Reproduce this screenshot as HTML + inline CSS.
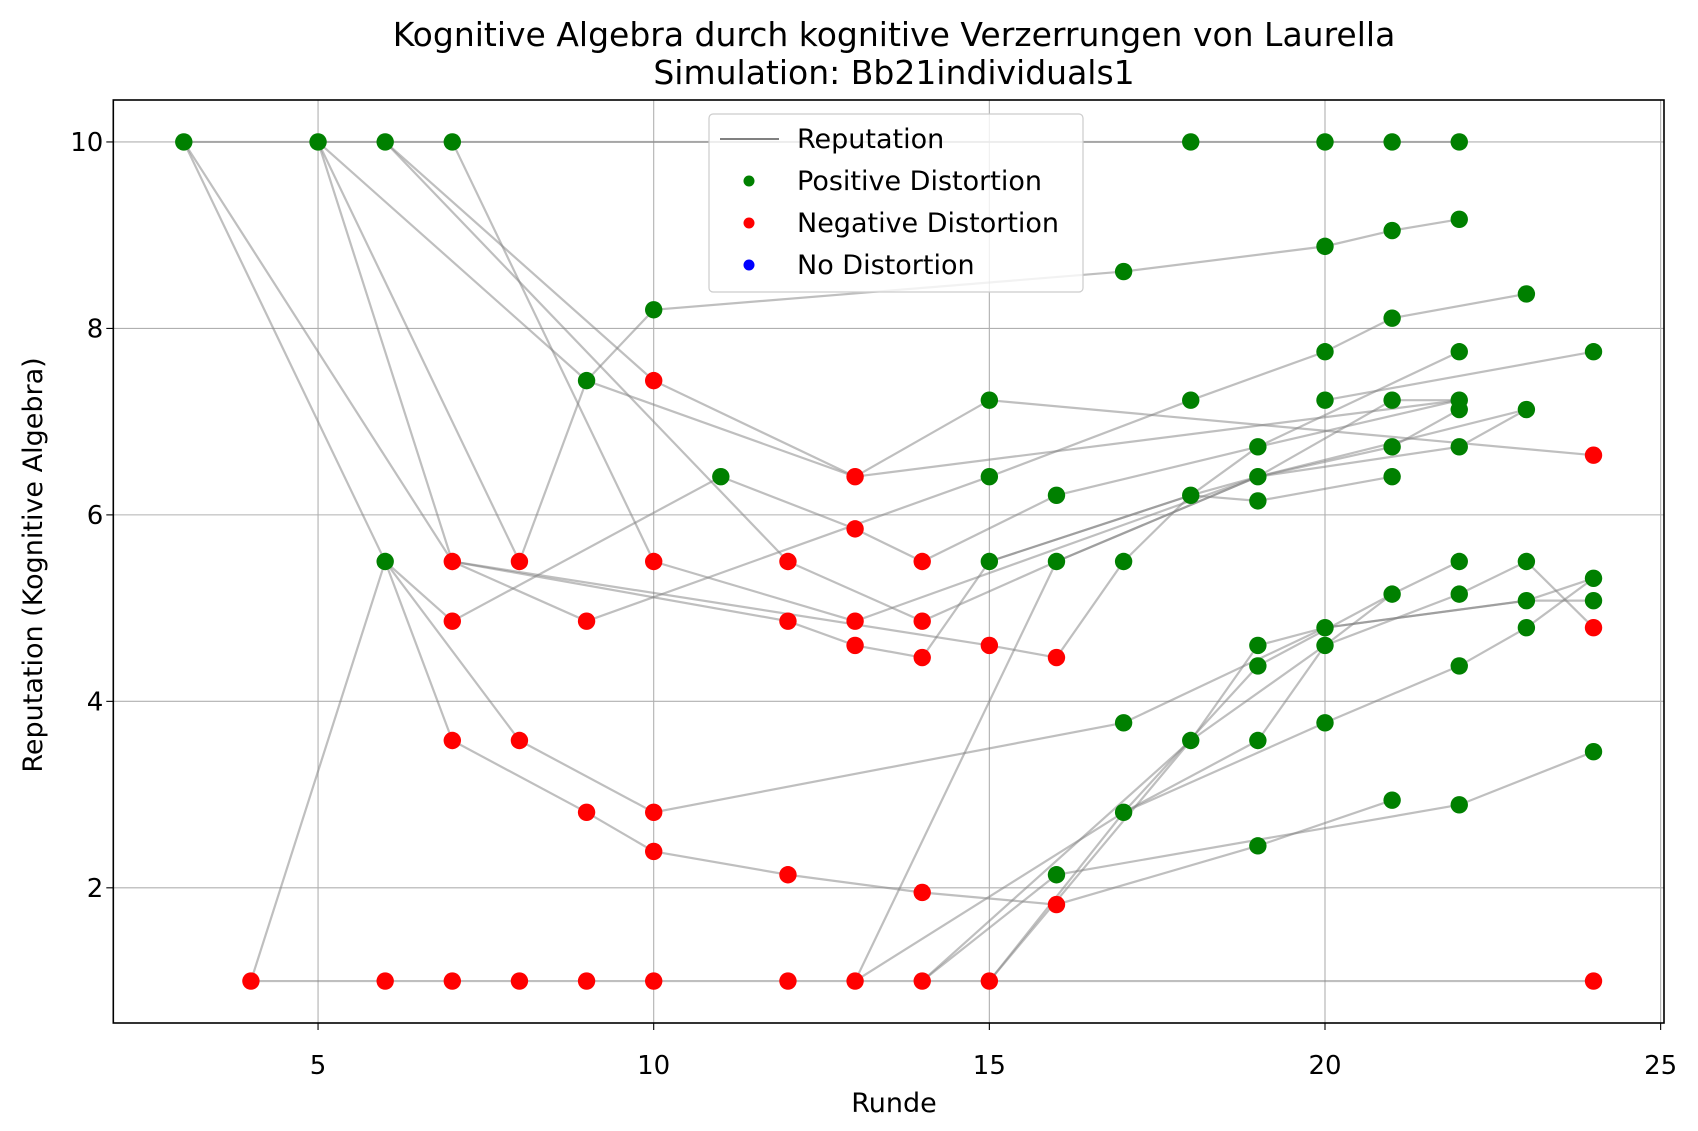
<!DOCTYPE html>
<html><head><meta charset="utf-8"><style>
html,body{margin:0;padding:0;background:#fff;}
svg{display:block;font-family:"DejaVu Sans","Liberation Sans",sans-serif;}
</style></head><body>
<svg id="chart" width="1698" height="1131" viewBox="0 0 1698 1131" xmlns="http://www.w3.org/2000/svg">
<rect width="1698" height="1131" fill="#fff"/>
<text x="894" y="46" text-anchor="middle" font-size="33">Kognitive Algebra durch kognitive Verzerrungen von Laurella</text>
<text x="894" y="84" text-anchor="middle" font-size="33">Simulation: Bb21individuals1</text>
<g id="grid"></g>
<g id="lines"></g>
<g id="points"></g>
<g id="axes"></g>
<text x="894" y="1112" text-anchor="middle" font-size="27">Runde</text>
<text transform="translate(42,565) rotate(-90)" text-anchor="middle" font-size="27">Reputation (Kognitive Algebra)</text>
<g>
<rect x="709" y="114" width="374" height="178" rx="4" fill="#fff" fill-opacity="0.8" stroke="#ccc" stroke-width="1.2"/>
<line x1="720" y1="139" x2="779" y2="139" stroke="#808080" stroke-width="2"/>
<text x="797" y="148" font-size="27">Reputation</text>
<circle cx="749" cy="181" r="5.5" fill="green"/>
<text x="797" y="190" font-size="27">Positive Distortion</text>
<circle cx="749" cy="223" r="5.5" fill="red"/>
<text x="797" y="232" font-size="27">Negative Distortion</text>
<circle cx="749" cy="265" r="5.5" fill="blue"/>
<text x="797" y="274" font-size="27">No Distortion</text>
</g>
</svg>
<script>
const xTicks=[5,10,15,20,25];
const yTicks=[2,4,6,8,10];
const xDomain=[1.95,25.05];
const yDomain=[0.55,10.45];
// trajectories: [round, reputation]
const trajectories=[
[[3,10],[5,10],[6,10],[7,10],[18,10],[20,10],[21,10],[22,10]],
[[4,1],[6,1],[7,1],[8,1],[9,1],[10,1],[12,1],[13,1],[14,1],[15,1],[24,1]],
[[4,1],[6,5.5],[7,3.58],[9,2.81],[10,2.39],[12,2.14],[14,1.95],[16,1.82],[19,2.45],[21,2.94]],
[[3,10],[6,5.5],[8,3.58],[10,2.81],[17,3.77],[20,4.79],[23,5.08],[24,5.32]],
[[3,10],[7,5.5],[12,4.86],[13,4.6],[14,4.47],[15,5.5],[18,6.21],[19,6.41],[21,7.23],[22,7.23]],
[[5,10],[7,5.5],[15,4.6],[16,4.47],[17,5.5],[18,6.21],[19,6.73],[22,7.23]],
[[5,10],[8,5.5],[9,7.44],[10,8.2],[17,8.61],[20,8.88],[21,9.05],[22,9.17]],
[[5,10],[9,7.44],[13,6.41],[15,7.23],[24,6.64]],
[[6,10],[10,7.44],[13,6.41],[22,7.23]],
[[6,10],[12,5.5],[14,4.86],[16,5.5],[19,6.41],[21,6.73],[22,7.13]],
[[7,10],[10,5.5],[13,4.86],[19,6.41],[23,7.13]],
[[6,5.5],[7,4.86],[11,6.41],[13,5.85],[14,5.5],[16,6.21],[19,6.73],[22,7.75]],
[[7,5.5],[9,4.86],[15,6.41],[18,7.23],[20,7.75],[21,8.11],[23,8.37]],
[[13,1],[16,5.5],[19,6.41],[22,6.73],[23,7.13]],
[[19,6.15],[21,6.41]],
[[20,7.23],[24,7.75]],
[[13,1],[17,2.81],[19,3.58],[20,4.6],[21,5.15],[22,5.5]],
[[14,1],[16,2.14],[22,2.89],[24,3.46]],
[[14,1],[18,3.58],[19,4.6],[20,4.79],[23,5.08],[24,5.08]],
[[15,1],[17,2.81],[19,4.38],[21,5.15]],
[[15,1],[18,3.58],[20,4.6],[22,5.15],[23,5.5],[24,4.79]],
[[17,2.81],[20,3.77],[22,4.38],[23,4.79],[24,5.32]],
[[15,5.5],[18,6.21],[19,6.15]]
];
const posRounds=[3,5,6,7,18,20,21,22,22,21,20,17,10,23,21,20,22,24,9,15,18,20,21,22,22,23,19,21,22,11,15,19,21,16,18,19,6,15,16,17,21,22,22,23,24,23,24,20,20,19,19,22,23,17,18,19,20,24,21,22,19,17,16];
const posValues=[10,10,10,10,10,10,10,10,9.17,9.05,8.88,8.61,8.2,8.37,8.11,7.75,7.75,7.75,7.44,7.23,7.23,7.23,7.23,7.23,7.13,7.13,6.73,6.73,6.73,6.41,6.41,6.41,6.41,6.21,6.21,6.15,5.5,5.5,5.5,5.5,5.15,5.15,5.5,5.5,5.32,5.08,5.08,4.79,4.6,4.6,4.38,4.38,4.79,3.77,3.58,3.58,3.77,3.46,2.94,2.89,2.45,2.81,2.14];
const negRounds=[7,8,10,12,14,10,13,13,7,9,12,13,14,13,14,15,16,7,8,9,10,10,12,14,16,24,24,4,6,7,8,9,10,12,13,14,15,24];
const negValues=[5.5,5.5,5.5,5.5,5.5,7.44,6.41,5.85,4.86,4.86,4.86,4.86,4.86,4.6,4.47,4.6,4.47,3.58,3.58,2.81,2.81,2.39,2.14,1.95,1.82,6.64,4.79,1,1,1,1,1,1,1,1,1,1,1];

const L=113.3,R=1664,T=100,B=1023;
const sx=v=>L+(v-xDomain[0])/(xDomain[1]-xDomain[0])*(R-L);
const sy=v=>B-(v-yDomain[0])/(yDomain[1]-yDomain[0])*(B-T);
const NS="http://www.w3.org/2000/svg";
function mk(tag,attrs,parent){const e=document.createElementNS(NS,tag);for(const k in attrs)e.setAttribute(k,attrs[k]);parent.appendChild(e);return e;}
const grid=document.getElementById('grid'),lines=document.getElementById('lines'),pts=document.getElementById('points'),axes=document.getElementById('axes');
xTicks.forEach(t=>{
 const g=mk('line',{x1:sx(t),x2:sx(t),y1:T,y2:B,stroke:'#b0b0b0','stroke-width':1.1},grid);
 
 
 const tk=mk('line',{x1:sx(t),x2:sx(t),y1:B,y2:B+7,stroke:'#000','stroke-width':1.1},axes);
 
 
 const lb=mk('text',{x:sx(t),y:B+51,'text-anchor':'middle','font-size':26},axes);lb.textContent=t;
 
 
});
yTicks.forEach(t=>{
 const g=mk('line',{x1:L,x2:R,y1:sy(t),y2:sy(t),stroke:'#b0b0b0','stroke-width':1.1},grid);
 
 
 const tk=mk('line',{x1:L-7,x2:L,y1:sy(t),y2:sy(t),stroke:'#000','stroke-width':1.1},axes);
 
 
 const lb=mk('text',{x:L-10,y:sy(t)+9,'text-anchor':'end','font-size':26},axes);lb.textContent=t;
 
 
});
const frame=mk('rect',{x:L,y:T,width:R-L,height:B-T,fill:'none',stroke:'#000','stroke-width':1.6},axes);


trajectories.forEach(tr=>{
 const p=mk('polyline',{points:tr.map(d=>sx(d[0])+','+sy(d[1])).join(' '),fill:'none',stroke:'#808080','stroke-opacity':0.5,'stroke-width':2.2},lines);
 
 
});
posRounds.forEach((r,i)=>{
 const c=mk('circle',{cx:sx(r),cy:sy(posValues[i]),r:8.7,fill:'green'},pts);
 
 
});
negRounds.forEach((r,i)=>{
 const c=mk('circle',{cx:sx(r),cy:sy(negValues[i]),r:8.7,fill:'red'},pts);
 
 
});
</script>
</body></html>
